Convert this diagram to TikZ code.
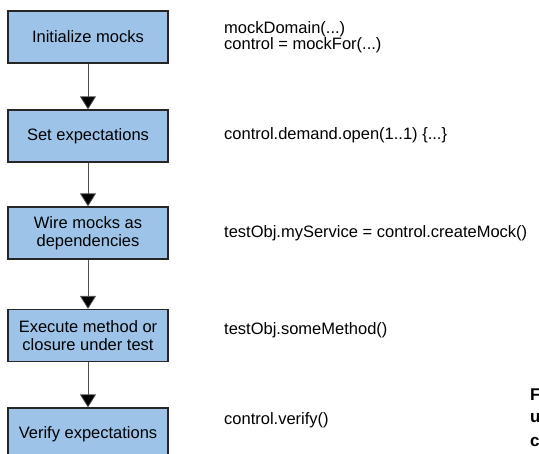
\documentclass[tikz,border=0pt]{standalone}
\usepackage{fontspec}
\setmainfont{Liberation Sans}
\usetikzlibrary{arrows.meta}
\definecolor{boxblue}{RGB}{157,196,232}
\definecolor{linegray}{RGB}{80,80,80}
\tikzset{
  stepbox/.style={draw=black!85, line width=1.2pt, fill=boxblue, minimum width=160pt, minimum height=52pt, inner sep=0pt, align=center, font=\fontsize{16.5}{18}\selectfont},
  codetext/.style={anchor=west, inner sep=0pt, align=left, font=\fontsize{16.5}{14.5}\selectfont},
  flow/.style={draw=linegray, line width=0.8pt, -{Triangle[length=13pt,width=16pt,fill=black]}, shorten >=0pt},
  captext/.style={anchor=west, inner sep=0pt, font=\fontsize{17}{18}\selectfont\bfseries}
}
\begin{document}
\begin{tikzpicture}[x=1pt,y=-1pt]
\useasboundingbox (0,0) rectangle (539,454);
\node[stepbox] (b1) at (88,37) {Initialize mocks};
\node[stepbox] (b2) at (88,136) {Set expectations};
\node[stepbox] (b3) at (88,233) {Wire mocks as\\dependencies};
\node[stepbox] (b4) at (88,335.5) {Execute method or\\closure under test};
\node[stepbox] (b5) at (88,434) {Verify expectations};
\draw[flow] (b1.south) -- (b2.north);
\draw[flow] (b2.south) -- (b3.north);
\draw[flow] (b3.south) -- (b4.north);
\draw[flow] (b4.south) -- (b5.north);
\node[codetext] (t1) at (224,37) {mockDomain(...)\\control = mockFor(...)};
\node[codetext] (t2) at (224,135) {control.demand.open(1..1) \{...\}};
\node[codetext] (t3) at (224,233) {testObj.myService = control.createMock()};
\node[codetext] (t4) at (224,330) {testObj.someMethod()};
\node[codetext] (t5) at (224,420) {control.verify()};
\node[captext] (c1) at (530,395) {F};
\node[captext] (c2) at (530,418) {u};
\node[captext] (c3) at (530,442) {c};
\end{tikzpicture}
\end{document}
